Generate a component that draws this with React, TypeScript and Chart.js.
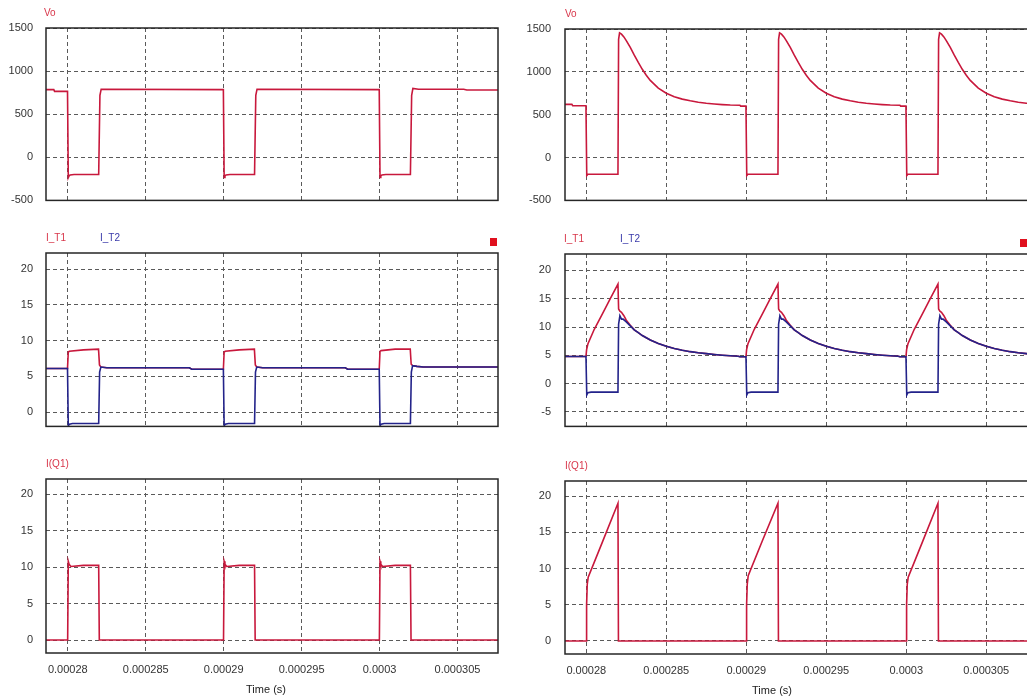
import React, { useEffect, useRef } from "react";
import { Chart, registerables } from "chart.js";

Chart.register(...registerables);
Chart.defaults.font.family = '"Liberation Sans", Arial, sans-serif';
Chart.defaults.font.size = 11;
Chart.defaults.color = "#333";

// ---- tick values / labels ----
const timeTickValues = [0.00028, 0.000285, 0.00029, 0.000295, 0.0003, 0.000305];
const timeTickLabels = ["0.00028", "0.000285", "0.00029", "0.000295", "0.0003", "0.000305"];
const voTickValues = [-500, 0, 500, 1000, 1500];
const voTickLabels = ["-500", "0", "500", "1000", "1500"];
const currentTickValues = [0, 5, 10, 15, 20];
const currentTickLabels = ["0", "5", "10", "15", "20"];
const currentTickValuesWide = [-5, 0, 5, 10, 15, 20];
const currentTickLabelsWide = ["-5", "0", "5", "10", "15", "20"];

// ---- left column data (time in microseconds) ----
const leftVoTimeUs = [
  278.6, 279.1, 279.15, 279.98, 280.03, 280.08, 280.15, 280.4, 281.98, 282.06, 282.14,
  289.98, 290.03, 290.08, 290.15, 290.4, 291.98, 292.06, 292.14,
  299.98, 300.03, 300.08, 300.15, 300.4, 301.98, 302.06, 302.14, 302.5, 305.4, 305.6, 307.7,
];
const leftVoValue = [
  785, 785, 765, 765, -235, -215, -205, -200, -200, 720, 790,
  785, -235, -215, -205, -200, -200, 720, 790,
  785, -235, -215, -205, -200, -200, 720, 800, 790, 790, 780, 780,
];

const leftIT2TimeUs = [
  278.6, 279.98, 280.03, 280.1, 280.3, 281.98, 282.04, 282.12, 282.5, 287.8, 287.95,
  289.98, 290.03, 290.1, 290.3, 291.98, 292.04, 292.12, 292.5, 297.8, 297.95,
  299.98, 300.03, 300.1, 300.3, 301.98, 302.04, 302.12, 302.4, 302.8, 307.7,
];
const leftIT2Value = [
  6.1, 6.1, -1.9, -1.7, -1.6, -1.6, 5.6, 6.3, 6.2, 6.2, 6.0,
  6.0, -1.9, -1.7, -1.6, -1.6, 5.6, 6.3, 6.2, 6.2, 6.0,
  6.0, -1.9, -1.7, -1.6, -1.6, 5.6, 6.5, 6.4, 6.3, 6.3,
];

const leftIT1TimeUs = [
  278.6, 279.98, 280.03, 280.1, 281.0, 281.97, 282.03, 282.12, 282.5, 287.8, 287.95,
  289.98, 290.03, 290.1, 291.0, 291.97, 292.03, 292.12, 292.5, 297.8, 297.95,
  299.98, 300.03, 300.1, 301.0, 301.97, 302.03, 302.12, 302.4, 302.8, 307.7,
];
const leftIT1Value = [
  6.1, 6.1, 8.4, 8.5, 8.7, 8.8, 6.6, 6.3, 6.2, 6.2, 6.0,
  6.0, 8.4, 8.5, 8.7, 8.8, 6.6, 6.3, 6.2, 6.2, 6.0,
  6.0, 8.5, 8.6, 8.8, 8.8, 6.7, 6.5, 6.4, 6.3, 6.3,
];

const leftIQ1TimeUs = [
  278.6, 279.99, 280.03, 280.08, 280.2, 281.0, 281.98, 282.02,
  289.99, 290.03, 290.08, 290.2, 291.0, 291.98, 292.02,
  299.99, 300.03, 300.08, 300.2, 301.0, 301.98, 302.02, 307.7,
];
const leftIQ1Value = [
  0, 0, 10.8, 10.4, 10.1, 10.25, 10.25, 0,
  0, 10.8, 10.4, 10.1, 10.25, 10.25, 0,
  0, 10.8, 10.4, 10.1, 10.25, 10.25, 0, 0,
];

// ---- right column data (time in microseconds) ----
const rightVoTimeUs = [
  278.67, 279.1, 279.15, 279.98, 280.03, 280.1, 281.98, 282.02, 282.08, 282.2, 282.35, 282.5, 282.75, 283.0, 283.25, 283.5, 283.75, 284.0, 284.5, 285.0, 285.5, 286.0, 286.5, 287.0, 287.5, 288.0, 288.5, 289.0, 289.6, 289.65,
  289.98, 290.03, 290.1, 291.98, 292.02, 292.08, 292.2, 292.35, 292.5, 292.75, 293.0, 293.25, 293.5, 293.75, 294.0, 294.5, 295.0, 295.5, 296.0, 296.5, 297.0, 297.5, 298.0, 298.5, 299.0, 299.6, 299.65,
  299.98, 300.03, 300.1, 301.98, 302.02, 302.08, 302.2, 302.35, 302.5, 302.75, 303.0, 303.25, 303.5, 303.75, 304.0, 304.5, 305.0, 305.5, 306.0, 306.5, 307.0, 307.5, 307.7,
];
const rightVoValue = [
  620, 620, 605, 605, -210, -195, -195, 1380, 1455, 1440, 1408, 1365, 1285, 1195, 1110, 1030, 960, 900, 810, 750, 710, 682, 662, 646, 634, 625, 618, 613, 610, 600,
  600, -210, -195, -195, 1380, 1455, 1440, 1408, 1365, 1285, 1195, 1110, 1030, 960, 900, 810, 750, 710, 682, 662, 646, 634, 625, 618, 613, 610, 600,
  600, -210, -195, -195, 1380, 1455, 1440, 1408, 1365, 1285, 1195, 1110, 1030, 960, 900, 810, 750, 710, 682, 662, 646, 634, 630,
];

const rightIT2TimeUs = [
  278.67, 279.98, 280.03, 280.1, 280.3, 281.98, 282.02, 282.1, 282.2, 282.3, 282.5, 282.75, 283.0, 283.25, 283.5, 283.75, 284.0, 284.5, 285.0, 285.5, 286.0, 286.5, 287.0, 287.5, 288.0, 288.5, 289.0, 289.5, 289.6,
  289.98, 290.03, 290.1, 290.3, 291.98, 292.02, 292.1, 292.2, 292.3, 292.5, 292.75, 293.0, 293.25, 293.5, 293.75, 294.0, 294.5, 295.0, 295.5, 296.0, 296.5, 297.0, 297.5, 298.0, 298.5, 299.0, 299.5, 299.6,
  299.98, 300.03, 300.1, 300.3, 301.98, 302.02, 302.1, 302.2, 302.3, 302.5, 302.75, 303.0, 303.25, 303.5, 303.75, 304.0, 304.5, 305.0, 305.5, 306.0, 306.5, 307.0, 307.5, 307.7,
];
const rightIT2Value = [
  4.8, 4.8, -2.0, -1.6, -1.5, -1.5, 10.5, 12.0, 11.4, 11.4, 10.9, 10.2, 9.5, 9.0, 8.5, 8.1, 7.7, 7.1, 6.6, 6.2, 5.9, 5.65, 5.45, 5.3, 5.15, 5.02, 4.92, 4.85, 4.75,
  4.75, -2.0, -1.6, -1.5, -1.5, 10.5, 12.0, 11.4, 11.4, 10.9, 10.2, 9.5, 9.0, 8.5, 8.1, 7.7, 7.1, 6.6, 6.2, 5.9, 5.65, 5.45, 5.3, 5.15, 5.02, 4.92, 4.85, 4.75,
  4.75, -2.0, -1.6, -1.5, -1.5, 10.5, 12.0, 11.4, 11.4, 10.9, 10.2, 9.5, 9.0, 8.5, 8.1, 7.7, 7.1, 6.6, 6.2, 5.9, 5.65, 5.45, 5.3, 5.2,
];

const rightIT1TimeUs = [
  278.67, 279.98, 280.02, 280.1, 280.5, 281.0, 281.5, 281.98, 282.02, 282.1, 282.2, 282.35, 282.5, 282.75, 283.0, 283.25, 283.5, 283.75, 284.0, 284.5, 285.0, 285.5, 286.0, 286.5, 287.0, 287.5, 288.0, 288.5, 289.0, 289.5, 289.6,
  289.98, 290.02, 290.1, 290.5, 291.0, 291.5, 291.98, 292.02, 292.1, 292.2, 292.35, 292.5, 292.75, 293.0, 293.25, 293.5, 293.75, 294.0, 294.5, 295.0, 295.5, 296.0, 296.5, 297.0, 297.5, 298.0, 298.5, 299.0, 299.5, 299.6,
  299.98, 300.02, 300.1, 300.5, 301.0, 301.5, 301.98, 302.02, 302.1, 302.2, 302.35, 302.5, 302.75, 303.0, 303.25, 303.5, 303.75, 304.0, 304.5, 305.0, 305.5, 306.0, 306.5, 307.0, 307.5, 307.7,
];
const rightIT1Value = [
  4.8, 4.8, 6.0, 7.0, 9.6, 12.3, 15.0, 17.6, 13.2, 12.8, 12.6, 12.0, 11.2, 10.3, 9.5, 9.0, 8.5, 8.1, 7.7, 7.1, 6.6, 6.2, 5.9, 5.65, 5.45, 5.3, 5.15, 5.02, 4.92, 4.85, 4.75,
  4.75, 6.0, 7.0, 9.6, 12.3, 15.0, 17.6, 13.2, 12.8, 12.6, 12.0, 11.2, 10.3, 9.5, 9.0, 8.5, 8.1, 7.7, 7.1, 6.6, 6.2, 5.9, 5.65, 5.45, 5.3, 5.15, 5.02, 4.92, 4.85, 4.75,
  4.75, 6.0, 7.0, 9.6, 12.3, 15.0, 17.6, 13.2, 12.8, 12.6, 12.0, 11.2, 10.3, 9.5, 9.0, 8.5, 8.1, 7.7, 7.1, 6.6, 6.2, 5.9, 5.65, 5.45, 5.3, 5.2,
];

const rightIQ1TimeUs = [
  278.67, 279.99, 280.02, 280.06, 280.12, 281.0, 281.98, 282.01,
  289.99, 290.02, 290.06, 290.12, 291.0, 291.98, 292.01,
  299.99, 300.02, 300.06, 300.12, 301.0, 301.98, 302.01, 307.7,
];
const rightIQ1Value = [
  0, 0, 5.0, 7.8, 8.8, 13.6, 19.0, 0,
  0, 5.0, 7.8, 9.0, 13.8, 19.0, 0,
  0, 5.0, 7.8, 8.8, 13.6, 19.0, 0, 0,
];

// ---- styles ----
const RED = "#c8183c";
const BLUE = "#23238a";
const LABEL_RED = "#d8364a";
const LABEL_BLUE = "#3a3aaa";

type Series = { time: number[]; value: number[]; color: string; order: number };
type Label = { text: string; color: string; dx: number };
type PanelSpec = {
  left: number; top: number; width: number; height: number;
  padTop: number; padBottom: number; padRight: number;
  yAxisWidth: number; xAxisHeight: number; yPad: number;
  showTime: boolean; timeTitleX: number;
  xMin: number; xMax: number; yMin: number; yMax: number;
  yTicks: number[]; yLabels: string[];
  labels: Label[]; marker: number | null;
  series: Series[];
};

const LEFT_X = { xMin: 278.6e-6, xMax: 307.6e-6 };
const RIGHT_X = { xMin: 278.67e-6, xMax: 307.67e-6 };

const panels: PanelSpec[] = [
  {
    left: 0, top: 0, width: 510, height: 220, padTop: 28, padBottom: 9, padRight: 12,
    yAxisWidth: 46, xAxisHeight: 0, yPad: 13, showTime: false, timeTitleX: 0, ...LEFT_X,
    yMin: -500, yMax: 1500, yTicks: voTickValues, yLabels: voTickLabels,
    labels: [{ text: "Vo", color: LABEL_RED, dx: -2 }], marker: null,
    series: [{ time: leftVoTimeUs, value: leftVoValue, color: RED, order: 0 }],
  },
  {
    left: 0, top: 222, width: 510, height: 224, padTop: 31, padBottom: 9, padRight: 12,
    yAxisWidth: 46, xAxisHeight: 0, yPad: 13, showTime: false, timeTitleX: 0, ...LEFT_X,
    yMin: -2.0, yMax: 22.25, yTicks: currentTickValues, yLabels: currentTickLabels,
    labels: [{ text: "I_T1", color: LABEL_RED, dx: 0 }, { text: "I_T2", color: LABEL_BLUE, dx: 54 }], marker: -8,
    series: [
      { time: leftIT2TimeUs, value: leftIT2Value, color: BLUE, order: 0 },
      { time: leftIT1TimeUs, value: leftIT1Value, color: RED, order: 1 },
    ],
  },
  {
    left: 0, top: 449, width: 510, height: 250, padTop: 30, padBottom: 0, padRight: 12,
    yAxisWidth: 46, xAxisHeight: 46, yPad: 13, showTime: true, timeTitleX: 266, ...LEFT_X,
    yMin: -1.78, yMax: 22.1, yTicks: currentTickValues, yLabels: currentTickLabels,
    labels: [{ text: "I(Q1)", color: LABEL_RED, dx: 0 }], marker: null,
    series: [{ time: leftIQ1TimeUs, value: leftIQ1Value, color: RED, order: 0 }],
  },
  {
    left: 512, top: 0, width: 528, height: 221, padTop: 29, padBottom: 9, padRight: 11,
    yAxisWidth: 53, xAxisHeight: 0, yPad: 14, showTime: false, timeTitleX: 0, ...RIGHT_X,
    yMin: -500, yMax: 1500, yTicks: voTickValues, yLabels: voTickLabels,
    labels: [{ text: "Vo", color: LABEL_RED, dx: 0 }], marker: null,
    series: [{ time: rightVoTimeUs, value: rightVoValue, color: RED, order: 0 }],
  },
  {
    left: 512, top: 222, width: 528, height: 225, padTop: 32, padBottom: 9, padRight: 11,
    yAxisWidth: 53, xAxisHeight: 0, yPad: 14, showTime: false, timeTitleX: 0, ...RIGHT_X,
    yMin: -7.55, yMax: 22.9, yTicks: currentTickValuesWide, yLabels: currentTickLabelsWide,
    labels: [{ text: "I_T1", color: LABEL_RED, dx: -1 }, { text: "I_T2", color: LABEL_BLUE, dx: 55 }], marker: -9,
    series: [
      { time: rightIT2TimeUs, value: rightIT2Value, color: BLUE, order: 0 },
      { time: rightIT1TimeUs, value: rightIT1Value, color: RED, order: 1 },
    ],
  },
  {
    left: 512, top: 449, width: 528, height: 250, padTop: 32, padBottom: 0, padRight: 11,
    yAxisWidth: 53, xAxisHeight: 45, yPad: 14, showTime: true, timeTitleX: 772, ...RIGHT_X,
    yMin: -1.8, yMax: 22.07, yTicks: currentTickValues, yLabels: currentTickLabels,
    labels: [{ text: "I(Q1)", color: LABEL_RED, dx: 0 }], marker: null,
    series: [{ time: rightIQ1TimeUs, value: rightIQ1Value, color: RED, order: 0 }],
  },
];

function Panel({ spec }: { spec: PanelSpec }) {
  const ref = useRef<HTMLCanvasElement>(null);
  useEffect(() => {
    const canvas = ref.current;
    if (!canvas) return;
    const overlay = {
      id: "overlay",
      afterDraw(chart: any) {
        const { ctx, chartArea: a } = chart;
        ctx.save();
        ctx.strokeStyle = "#262626";
        ctx.lineWidth = 1.5;
        ctx.setLineDash([]);
        ctx.strokeRect(a.left, a.top, a.right - a.left, a.bottom - a.top);
        ctx.font = '10px "Liberation Sans", Arial, sans-serif';
        ctx.textBaseline = "alphabetic";
        ctx.textAlign = "left";
        for (const l of spec.labels) {
          ctx.fillStyle = l.color;
          ctx.fillText(l.text, a.left + l.dx, a.top - 12);
        }
        if (spec.marker !== null) {
          ctx.fillStyle = "#e0101e";
          ctx.fillRect(a.right + spec.marker, a.top - 15, 7, 8);
        }
        if (spec.showTime) {
          ctx.fillStyle = "#222";
          ctx.font = '11px "Liberation Sans", Arial, sans-serif';
          ctx.textAlign = "center";
          ctx.fillText("Time (s)", spec.timeTitleX - spec.left, a.bottom + 40);
        }
        ctx.restore();
      },
    };
    const chart = new Chart(canvas, {
      type: "line",
      data: {
        datasets: spec.series.map((s) => ({
          data: s.time.map((t, i) => ({ x: t * 1e-6, y: s.value[i] })),
          borderColor: s.color,
          borderWidth: 1.6,
          pointRadius: 0,
          tension: 0,
          fill: false,
          order: s.order,
        })),
      },
      options: {
        responsive: false,
        animation: false,
        devicePixelRatio: 1,
        events: [],
        layout: { padding: { left: 0, top: spec.padTop, right: spec.padRight, bottom: spec.padBottom } },
        plugins: { legend: { display: false }, tooltip: { enabled: false }, title: { display: false } },
        scales: {
          x: {
            type: "linear",
            min: spec.xMin,
            max: spec.xMax,
            afterBuildTicks: (s: any) => {
              s.ticks = timeTickValues.map((v) => ({ value: v }));
            },
            afterFit: (s: any) => {
              s.height = spec.xAxisHeight;
            },
            ticks: {
              display: spec.showTime,
              autoSkip: false,
              maxRotation: 0,
              padding: 10,
              color: "#333",
              font: { size: 11 },
              callback: (_v: any, i: number) => timeTickLabels[i],
            },
            grid: { color: "#5a5a5a", lineWidth: 1, drawTicks: false },
            border: { display: false, dash: [4, 3] },
          },
          y: {
            type: "linear",
            min: spec.yMin,
            max: spec.yMax,
            afterBuildTicks: (s: any) => {
              s.ticks = spec.yTicks.map((v) => ({ value: v }));
            },
            afterFit: (s: any) => {
              s.width = spec.yAxisWidth;
            },
            ticks: {
              autoSkip: false,
              padding: spec.yPad,
              color: "#333",
              font: { size: 11 },
              callback: (_v: any, i: number) => spec.yLabels[i],
            },
            grid: { color: "#5a5a5a", lineWidth: 1, drawTicks: false },
            border: { display: false, dash: [4, 3] },
          },
        },
      } as any,
      plugins: [overlay],
    });
    return () => chart.destroy();
  }, [spec]);
  return (
    <canvas
      ref={ref}
      width={spec.width}
      height={spec.height}
      style={{ position: "absolute", left: spec.left, top: spec.top, width: spec.width, height: spec.height }}
    />
  );
}

export default function App() {
  return (
    <div
      style={{
        position: "absolute",
        left: 0,
        top: 0,
        width: 1027,
        height: 699,
        overflow: "hidden",
        background: "#ffffff",
      }}
    >
      {panels.map((p, i) => (
        <Panel key={i} spec={p} />
      ))}
    </div>
  );
}
